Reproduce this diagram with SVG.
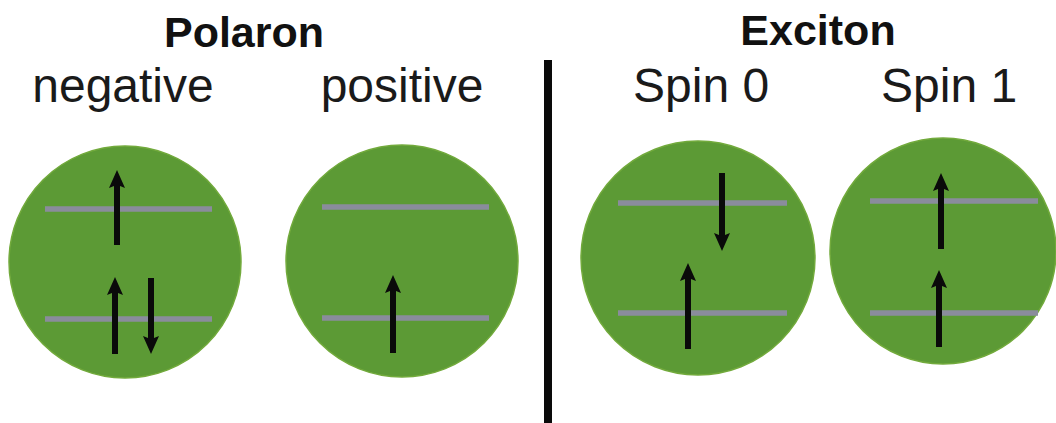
<svg xmlns="http://www.w3.org/2000/svg" width="1056" height="423" viewBox="0 0 1056 423">
<style>
.title{font-family:"Liberation Sans",Arial,sans-serif;font-weight:bold;font-size:43px;fill:#111;text-anchor:middle}
.sub{font-family:"Liberation Sans",Arial,sans-serif;font-size:48px;fill:#1a1a1a}
.disc{fill:#5c9a35;stroke:#72aa3c;stroke-width:1.5}
.lvl{stroke:#8a8c9c;stroke-width:5.5;fill:none}
.arr{fill:#0a0a0a}
</style>
<rect width="1056" height="423" fill="#ffffff"/>
<text class="title" x="244" y="47">Polaron</text>
<text class="title" x="818" y="45">Exciton</text>
<text class="sub" x="123" y="102" text-anchor="middle">negative</text>
<text class="sub" x="402" y="102" text-anchor="middle">positive</text>
<text class="sub" x="633" y="102">Spin 0</text>
<text class="sub" x="881" y="102">Spin 1</text>
<rect id="divider" x="544" y="60" width="8" height="363" fill="#0a0a0a"/>
<g id="neg">
<circle class="disc" cx="125" cy="262" r="116"/>
<line class="lvl" x1="45" y1="209" x2="212" y2="209"/>
<line class="lvl" x1="45" y1="319" x2="212" y2="319"/>
</g>
<g id="pos">
<circle class="disc" cx="402" cy="261" r="116"/>
<line class="lvl" x1="322" y1="207" x2="489" y2="207"/>
<line class="lvl" x1="322" y1="318" x2="489" y2="318"/>
</g>
<g id="spin0">
<circle class="disc" cx="698" cy="258" r="117"/>
<line class="lvl" x1="618" y1="203" x2="787" y2="203"/>
<line class="lvl" x1="618" y1="313" x2="787" y2="313"/>
</g>
<g id="spin1">
<circle class="disc" cx="943" cy="251" r="113"/>
<line class="lvl" x1="870" y1="201" x2="1038" y2="201"/>
<line class="lvl" x1="870" y1="313" x2="1038" y2="313"/>
</g>
<g id="spins">
<path class="arr" d="M114,245 L114,186 L109,188 L117,170 L125,188 L120,186 L120,245 Z"/>
<path class="arr" d="M112,354 L112,293 L107,295 L115,277 L123,295 L118,293 L118,354 Z"/>
<path class="arr" d="M148,278 L148,338 L143,336 L151,354 L159,336 L154,338 L154,278 Z"/>
<path class="arr" d="M390,353 L390,291 L385,293 L393,275 L401,293 L396,291 L396,353 Z"/>
<path class="arr" d="M719,173 L719,235 L714,233 L722,251 L730,233 L725,235 L725,173 Z"/>
<path class="arr" d="M685,349 L685,279 L680,281 L688,263 L696,281 L691,279 L691,349 Z"/>
<path class="arr" d="M938,249 L938,189 L933,191 L941,173 L949,191 L944,189 L944,249 Z"/>
<path class="arr" d="M936,347 L936,286 L931,288 L939,270 L947,288 L942,286 L942,347 Z"/>
</g>
</svg>
